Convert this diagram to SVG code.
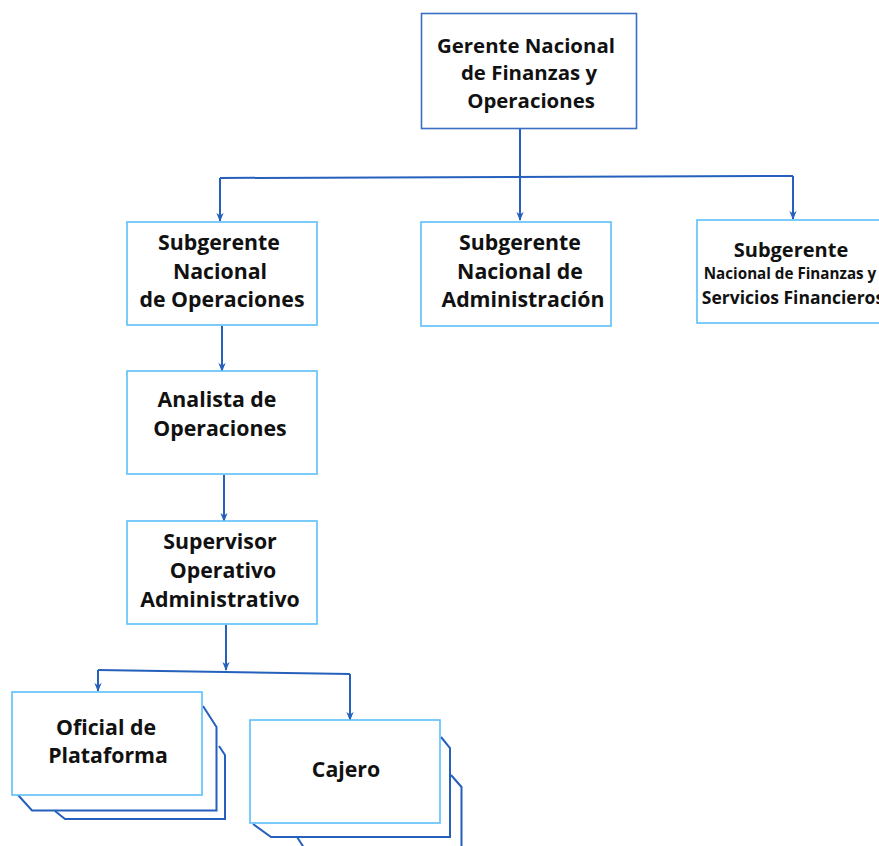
<svg xmlns="http://www.w3.org/2000/svg" width="879" height="846" viewBox="0 0 879 846">
<defs>
<style>
.box{fill:#fff;stroke:#5cc0fb;stroke-width:1.6}
.top{fill:#fff;stroke:#3a6fc4;stroke-width:1.6}
.t{font-family:"Open Sans","Noto Sans","Liberation Sans",sans-serif;font-weight:bold;font-size:21.3px;fill:#111;text-anchor:middle}
.conn{fill:none;stroke:#2560bd;stroke-width:2}
.stack{fill:none;stroke:#2560bd;stroke-width:2}
</style>
<marker id="ah" viewBox="0 0 10 8" refX="9" refY="4" markerWidth="9" markerHeight="8" markerUnits="userSpaceOnUse" orient="auto">
<path d="M0,0 L10,4 L0,8 L3,4 Z" fill="#2560bd"/>
</marker>
</defs>

<g id="connectors">
<path class="conn" d="M520,129 V177"/>
<path class="conn" d="M220,178 L793,176"/>
<path class="conn" d="M220,178 V221" marker-end="url(#ah)"/>
<path class="conn" d="M520,177 V220" marker-end="url(#ah)"/>
<path class="conn" d="M793,176 V219" marker-end="url(#ah)"/>
<path class="conn" d="M222,326 V371" marker-end="url(#ah)"/>
<path class="conn" d="M224,475 V521" marker-end="url(#ah)"/>
<path class="conn" d="M226,625 V670" marker-end="url(#ah)"/>
<path class="conn" d="M98,670 L350,674"/>
<path class="conn" d="M98,670 V691" marker-end="url(#ah)"/>
<path class="conn" d="M350,674 V720" marker-end="url(#ah)"/>
</g>

<g id="gerente">
<rect class="top" x="421.5" y="13.5" width="215" height="115"/>
<text class="t" x="526" y="53" style="font-size:20.4px">Gerente Nacional</text>
<text class="t" x="529" y="80" style="font-size:20.4px">de Finanzas y</text>
<text class="t" x="531" y="108" style="font-size:20.4px">Operaciones</text>
</g>

<g id="sub-operaciones">
<rect class="box" x="127" y="222" width="190" height="103"/>
<text class="t" x="219" y="250">Subgerente</text>
<text class="t" x="220" y="279">Nacional</text>
<text class="t" x="222" y="307">de Operaciones</text>
</g>

<g id="sub-administracion">
<rect class="box" x="421" y="222" width="190" height="104"/>
<text class="t" x="520" y="250">Subgerente</text>
<text class="t" x="520" y="279">Nacional de</text>
<text class="t" x="523" y="307">Administración</text>
</g>

<g id="sub-finanzas">
<rect class="box" x="697" y="220" width="190" height="103"/>
<text class="t" x="791" y="257" style="font-size:20px">Subgerente</text>
<text class="t" x="790" y="279" style="font-size:15.2px">Nacional de Finanzas y</text>
<text class="t" x="793" y="304" style="font-size:17.5px">Servicios Financieros</text>
</g>

<g id="analista">
<rect class="box" x="127" y="371" width="190" height="103"/>
<text class="t" x="217" y="407">Analista de</text>
<text class="t" x="220" y="436">Operaciones</text>
</g>

<g id="supervisor">
<rect class="box" x="127" y="521" width="190" height="103"/>
<text class="t" x="220" y="549">Supervisor</text>
<text class="t" x="223" y="578">Operativo</text>
<text class="t" x="220" y="607">Administrativo</text>
</g>

<g id="oficial">
<polyline class="stack" points="219,746 225,755 225,819 65,819 55,811"/>
<polyline class="stack" points="203,706 216.5,727 216.5,810.5 32,810.5 18,795"/>
<rect class="box" x="12" y="692" width="190" height="103"/>
<text class="t" x="106" y="735">Oficial de</text>
<text class="t" x="108" y="763">Plataforma</text>
</g>

<g id="cajero">
<polyline class="stack" points="451,775 461.5,787 461.5,847"/>
<line class="stack" x1="297" y1="837" x2="303.5" y2="847"/>
<polyline class="stack" points="441,737 450,748 450,837 271,837 253,824"/>
<rect class="box" x="250" y="720" width="190" height="103"/>
<text class="t" x="346" y="777">Cajero</text>
</g>
</svg>
